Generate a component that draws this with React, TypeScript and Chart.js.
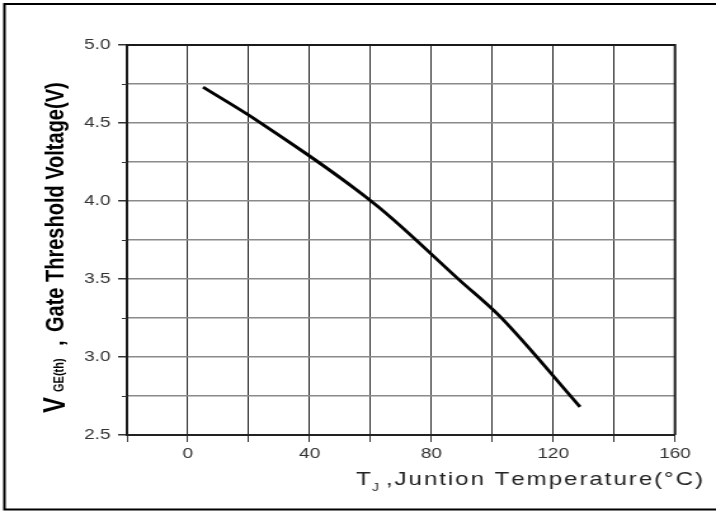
import React, { useEffect, useRef } from 'react';
import { Chart, registerables } from 'chart.js';

Chart.register(...registerables);

// ---- data ----
const junctionTemps = [5, 22.4, 62.1, 89.4, 102.5, 128.8];
const thresholdVolts = [4.73, 4.52, 3.97, 3.49, 3.26, 2.68];
const xTickLabelValues = [0, 40, 80, 120, 160];
const yTickLabelValues = [2.5, 3.0, 3.5, 4.0, 4.5, 5.0];
const xTitleMain = 'T';
const xTitleSub = 'J';
const xTitleRest = ',Juntion Temperature(°C)';
const yTitleMain = 'V';
const yTitleSub = 'GE(th)';
const yTitleComma = ',';
const yTitleRest = 'Gate Threshold Voltage(V)';

// ---- layout (internal canvas is narrower, then stretched horizontally like the reference) ----
const W = 564;
const H = 511;
const DISPLAY_W = 716;
const FONT = '"Liberation Sans", Arial, Helvetica, sans-serif';

const isMajorY = (v: number) => yTickLabelValues.some((l) => Math.abs(l - v) < 1e-6);

const decorPlugin = {
  id: 'decor',
  beforeDatasetsDraw(chart: any) {
    const { ctx, chartArea: a } = chart;
    ctx.save();
    ctx.strokeStyle = '#1a1a1a';
    ctx.lineWidth = 2;
    ctx.beginPath();
    ctx.moveTo(a.left, a.top);
    ctx.lineTo(a.right, a.top);
    ctx.lineTo(a.right, a.bottom);
    ctx.stroke();
    // short minor ticks on the y axis
    const ys = chart.scales.y;
    ctx.strokeStyle = '#333';
    ctx.lineWidth = 1;
    ctx.beginPath();
    for (const t of ys.ticks) {
      if (isMajorY(t.value)) continue;
      const py = Math.round(ys.getPixelForValue(t.value)) + 0.5;
      ctx.moveTo(a.left - 4, py);
      ctx.lineTo(a.left, py);
    }
    ctx.stroke();
    ctx.restore();
  },
  afterDraw(chart: any) {
    const { ctx, width, height, chartArea: a } = chart;
    ctx.save();
    // outer frame (cropped on the right like the reference)
    ctx.strokeStyle = '#000';
    ctx.lineWidth = 2;
    ctx.beginPath();
    ctx.moveTo(width + 4, 4);
    ctx.lineTo(3.5, 4);
    ctx.lineTo(3.5, height - 1.5);
    ctx.lineTo(width + 4, height - 1.5);
    ctx.stroke();

    // y axis title (rotated, with subscript)
    ctx.save();
    ctx.translate(49.6, a.bottom - 22);
    ctx.rotate(-Math.PI / 2);
    ctx.fillStyle = '#000';
    ctx.textAlign = 'left';
    ctx.textBaseline = 'alphabetic';
    ctx.font = `bold 24px ${FONT}`;
    ctx.fillText(yTitleMain, 0, 1.5);
    ctx.font = `bold 11px ${FONT}`;
    ctx.fillText(yTitleSub, 21, 0);
    ctx.font = `bold 20px ${FONT}`;
    ctx.fillText(yTitleComma, 67, 0);
    ctx.fillText(yTitleRest, 81, 0);
    ctx.restore();

    // x axis title (with subscript, letter-spaced)
    const baseY = 485;
    ctx.fillStyle = '#222';
    ctx.textAlign = 'left';
    ctx.textBaseline = 'alphabetic';
    ctx.font = `19px ${FONT}`;
    ctx.fillText(xTitleMain, 280.4, baseY);
    ctx.font = `11px ${FONT}`;
    ctx.fillText(xTitleSub, 293, baseY + 6);
    ctx.font = `19px ${FONT}`;
    const startX = 304;
    const endX = 553.8;
    const chars = Array.from(xTitleRest);
    const natural = chars.reduce((s, c) => s + ctx.measureText(c).width, 0);
    const gap = (endX - startX - natural) / (chars.length - 1);
    let x = startX;
    for (const c of chars) {
      ctx.fillText(c, x, baseY);
      x += ctx.measureText(c).width + gap;
    }
    ctx.restore();
  },
};

export default function App() {
  const ref = useRef<HTMLCanvasElement>(null);

  useEffect(() => {
    document.body.style.margin = '0';
    const canvas = ref.current;
    if (!canvas) return;
    const chart = new Chart(canvas, {
      type: 'line',
      data: {
        datasets: [
          {
            data: junctionTemps.map((t, i) => ({ x: t, y: thresholdVolts[i] })),
            borderColor: '#000',
            borderWidth: 2.8,
            pointRadius: 0,
            fill: false,
            cubicInterpolationMode: 'monotone',
          },
        ],
      },
      options: {
        animation: false,
        responsive: true,
        maintainAspectRatio: false,
        layout: { padding: { left: 0, top: 45, right: W - 531.7, bottom: 0 } },
        plugins: {
          legend: { display: false },
          tooltip: { enabled: false },
          title: { display: false },
        },
        scales: {
          x: {
            type: 'linear',
            min: -20,
            max: 160,
            afterFit: (s: any) => {
              s.height = H - 435;
            },
            ticks: {
              stepSize: 20,
              autoSkip: false,
              maxRotation: 0,
              padding: 3,
              color: '#333',
              font: { family: FONT, size: 15 },
              callback: (v: any) => (xTickLabelValues.includes(Number(v)) ? String(v) : ''),
            },
            grid: { color: '#262626', lineWidth: 1, tickLength: 7, tickColor: '#333' },
            border: { display: true, color: '#222', width: 2 },
          },
          y: {
            type: 'linear',
            min: 2.5,
            max: 5.0,
            afterFit: (s: any) => {
              s.width = 100;
            },
            ticks: {
              stepSize: 0.25,
              autoSkip: false,
              padding: 6,
              color: '#333',
              font: { family: FONT, size: 15 },
              callback: (v: any) => (isMajorY(Number(v)) ? Number(v).toFixed(1) : ''),
            },
            grid: {
              color: '#8a8a8a',
              lineWidth: 1.5,
              tickLength: 7,
              tickColor: (c: any) => (c.tick && isMajorY(c.tick.value) ? '#333' : 'rgba(0,0,0,0)'),
            },
            border: { display: true, color: '#1a1a1a', width: 2 },
          },
        },
      },
      plugins: [decorPlugin],
    } as any);
    return () => chart.destroy();
  }, []);

  return (
    <div style={{ width: DISPLAY_W, height: H, overflow: 'hidden', background: '#fff' }}>
      <div
        style={{
          width: W,
          height: H,
          position: 'relative',
          transform: `scaleX(${DISPLAY_W / W})`,
          transformOrigin: '0 0',
        }}
      >
        <canvas ref={ref} />
      </div>
    </div>
  );
}
